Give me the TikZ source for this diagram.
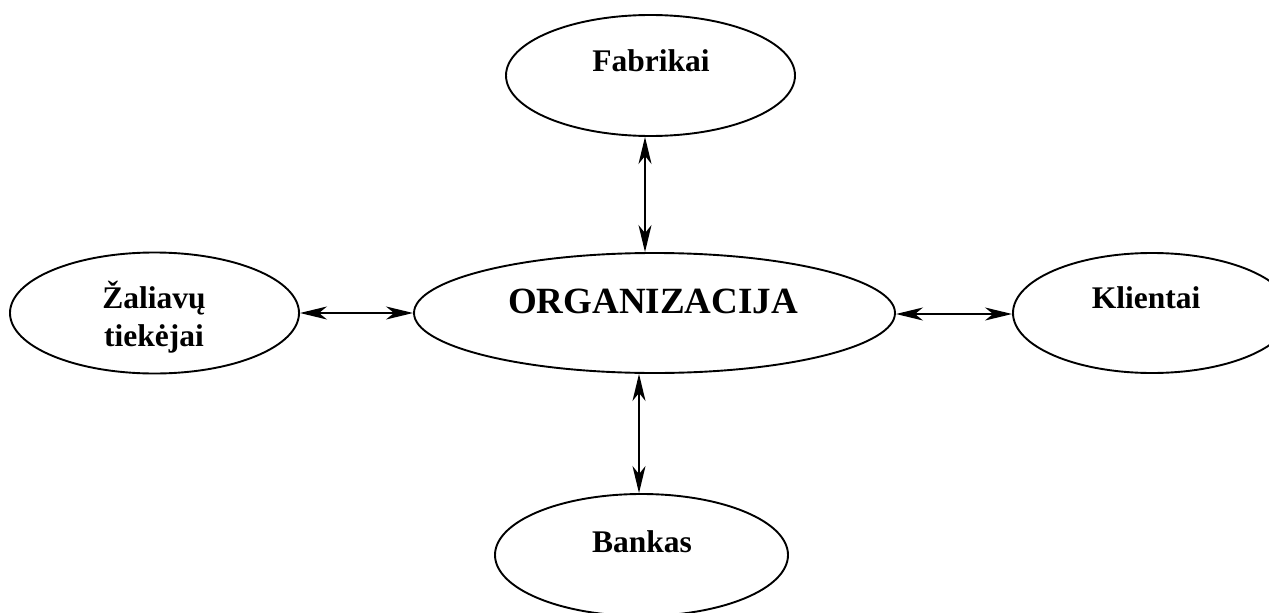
\documentclass[tikz,border=0pt]{standalone}
\usepackage{fontspec}
\setmainfont{Liberation Serif}
\usetikzlibrary{arrows.meta,shapes.geometric}
\begin{document}
\begin{tikzpicture}[x=1pt,y=-1pt,
  oval/.style={draw,ellipse,line width=1.9pt,inner sep=0pt,
    minimum width=289pt,minimum height=121pt},
  lbl/.style={font=\fontsize{31.5}{38}\selectfont\bfseries,anchor=base,
    inner sep=0pt,align=center},
  tip/.tip={Stealth[length=27pt,width=13pt,inset=8pt]},
  link/.style={line width=1.9pt,tip-tip}]
\clip (0,0) rectangle (1269,613);
% ovals
\node[oval] (fab) at (650.5,75.5) {};
\node[oval,minimum width=481pt,minimum height=120pt] (org) at (654.5,313) {};
\node[oval] (zal) at (154.5,313) {};
\node[oval,minimum width=278pt,minimum height=120pt] (kli) at (1152,313) {};
\node[oval,minimum width=293pt,minimum height=122pt] (bank) at (641.5,555) {};
% labels (base anchor of the two-line label sits on its last line)
\node[lbl] (fabt) at (651,71) {Fabrikai};
\node[lbl,font=\fontsize{37}{44}\selectfont\bfseries] (orgt) at (653,313) {ORGANIZACIJA};
\node[lbl] (zalt) at (154,346) {Žaliavų\\tiekėjai};
\node[lbl] (klit) at (1146,308) {Klientai};
\node[lbl] (bankt) at (642,552) {Bankas};
% connectors
\coordinate (topx) at (645,0);
\coordinate (botx) at (639,0);
\draw[link] (fab.south -| topx) -- (org.north -| topx);
\draw[link] (org.south -| botx) -- (bank.north -| botx);
\draw[link] (zal.east) -- (org.west);
\draw[link] ([yshift=-1pt]org.east) -- ([yshift=-1pt]kli.west);
\end{tikzpicture}
\end{document}
